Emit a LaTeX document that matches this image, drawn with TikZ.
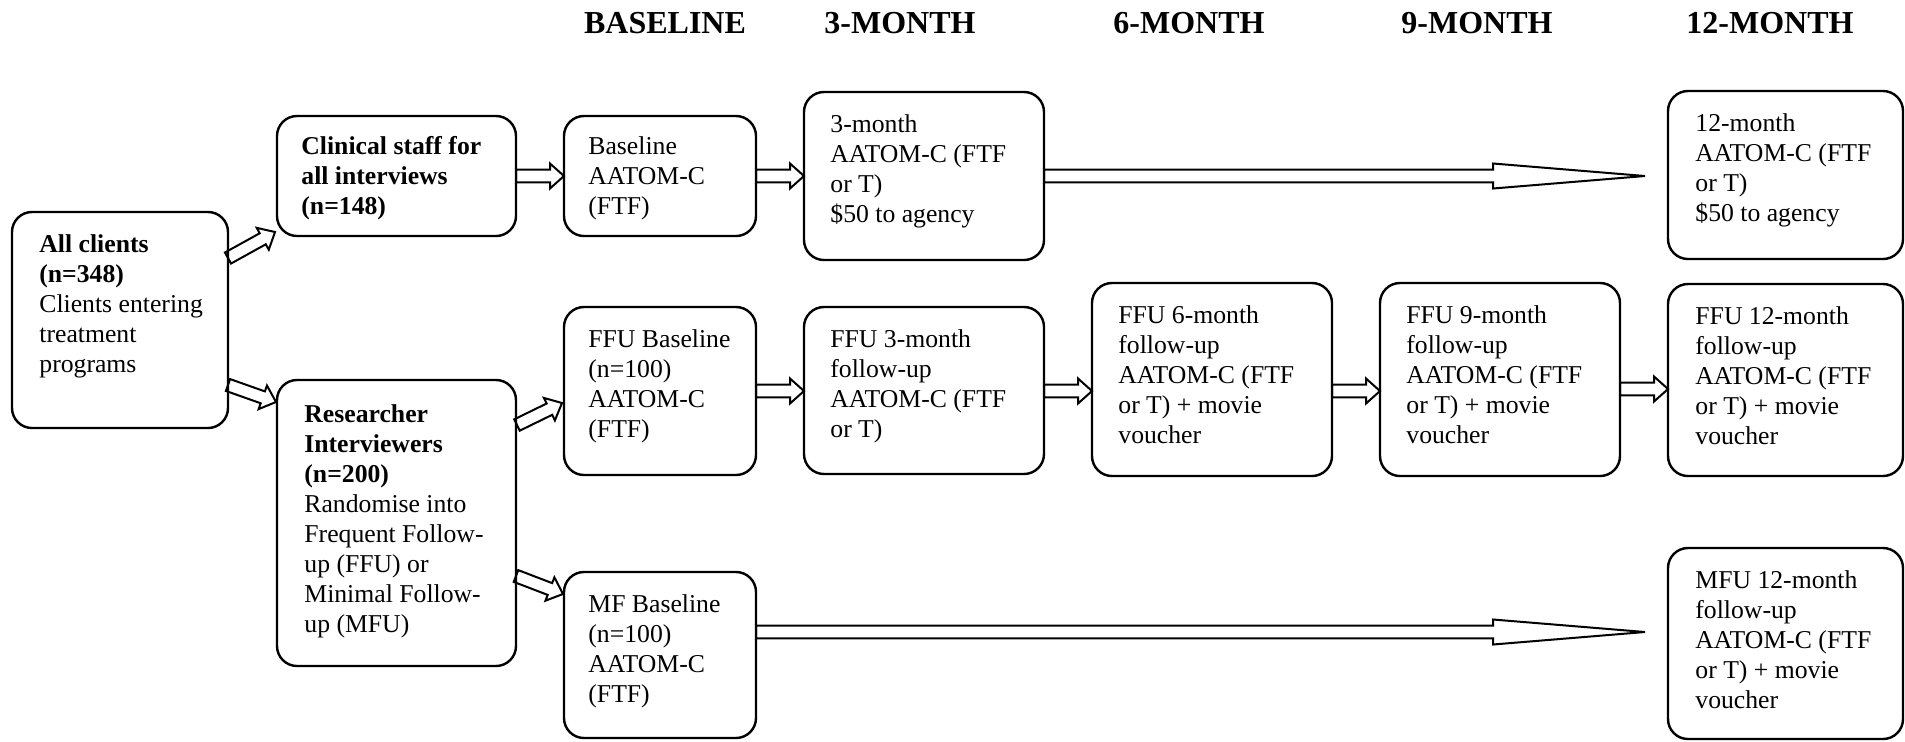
\documentclass[tikz,border=0pt]{standalone}
\usepackage{fontspec}
\setmainfont{Liberation Serif}
\usetikzlibrary{calc,fit}
\tikzset{
  box/.style={draw, line width=1.2pt, rounded corners=10pt, inner sep=0pt, outer sep=0pt},
  txt/.style={inner sep=0pt, anchor=base west, font=\fontsize{12.85}{15}\selectfont},
  hdr/.style={inner sep=0pt, anchor=base, font=\fontsize{16}{18}\selectfont\bfseries},
  arr/.style={draw, line width=1pt, line join=miter},
}
\newcommand{\tb}[1]{\parbox[t]{130pt}{\raggedright #1}}
% block arrow: tail, tip, shaft half width, head half width, head length
\newcommand{\barrow}[5]{%
  \coordinate (bh) at ($(#2)!#5!(#1)$);
  \draw[arr] ($(#1)!#3!90:(#2)$) -- ($(bh)!#3!90:(#2)$) -- ($(bh)!#4!90:(#2)$) -- (#2)
    -- ($(bh)!#4!-90:(#2)$) -- ($(bh)!#3!-90:(#2)$) -- ($(#1)!#3!-90:(#2)$) -- cycle;}
\newcommand{\sarrow}[2]{\barrow{#1}{#2}{3.15pt}{6.25pt}{7pt}}
\newcommand{\larrow}[2]{\barrow{#1}{#2}{3.15pt}{6.25pt}{76pt}}
\begin{document}
\begin{tikzpicture}[x=0.5pt, y=-0.5pt]
\useasboundingbox (0,0) rectangle (1905,741);

% headers
\node[hdr] (hbase) at (665,33) {BASELINE};
\node[hdr] (h3) at (900,33) {3-MONTH};
\node[hdr] (h6) at (1189,33) {6-MONTH};
\node[hdr] (h9) at (1477,33) {9-MONTH};
\node[hdr] (h12) at (1770,33) {12-MONTH};

% boxes
\node[box, fit={(12,212) (228,428)}] (allc) {};
\node[box, fit={(277,116) (516,236)}] (clin) {};
\node[box, fit={(277,380) (516,666)}] (res) {};
\node[box, fit={(564,116) (756,236)}] (base) {};
\node[box, fit={(804,92) (1044,260)}] (m3) {};
\node[box, fit={(1668,91) (1903,259)}] (m12) {};
\node[box, fit={(564,307) (756,475)}] (ffub) {};
\node[box, fit={(804,307) (1044,474)}] (ffu3) {};
\node[box, fit={(1092,283) (1332,476)}] (ffu6) {};
\node[box, fit={(1380,283) (1620,476)}] (ffu9) {};
\node[box, fit={(1668,284) (1903,476)}] (ffu12) {};
\node[box, fit={(564,572) (756,738)}] (mfb) {};
\node[box, fit={(1668,548) (1903,739)}] (mfu12) {};

% texts
\node[txt] (allc-t) at ($(allc.north west)+(27,40)$) {\tb{\textbf{All clients}\\\textbf{(n=348)}\\Clients entering\\treatment\\programs}};
\node[txt] (clin-t) at ($(clin.north west)+(24,38)$) {\tb{\textbf{Clinical staff for}\\\textbf{all interviews}\\\textbf{(n=148)}}};
\node[txt] (res-t) at ($(res.north west)+(27,42)$) {\tb{\textbf{Researcher}\\\textbf{Interviewers}\\\textbf{(n=200)}\\Randomise into\\Frequent Follow-\\up (FFU) or\\Minimal Follow-\\up (MFU)}};
\node[txt] (base-t) at ($(base.north west)+(24,38)$) {\tb{Baseline\\AATOM-C\\(FTF)}};
\node[txt] (m3-t) at ($(m3.north west)+(26,40)$) {\tb{3-month\\AATOM-C (FTF\\or T)\\\$50 to agency}};
\node[txt] (m12-t) at ($(m12.north west)+(27,40)$) {\tb{12-month\\AATOM-C (FTF\\or T)\\\$50 to agency}};
\node[txt] (ffub-t) at ($(ffub.north west)+(24,40)$) {\tb{FFU Baseline\\(n=100)\\AATOM-C\\(FTF)}};
\node[txt] (ffu3-t) at ($(ffu3.north west)+(26,40)$) {\tb{FFU 3-month\\follow-up\\AATOM-C (FTF\\or T)}};
\node[txt] (ffu6-t) at ($(ffu6.north west)+(26,40)$) {\tb{FFU 6-month\\follow-up\\AATOM-C (FTF\\or T) + movie\\voucher}};
\node[txt] (ffu9-t) at ($(ffu9.north west)+(26,40)$) {\tb{FFU 9-month\\follow-up\\AATOM-C (FTF\\or T) + movie\\voucher}};
\node[txt] (ffu12-t) at ($(ffu12.north west)+(27,40)$) {\tb{FFU 12-month\\follow-up\\AATOM-C (FTF\\or T) + movie\\voucher}};
\node[txt] (mfb-t) at ($(mfb.north west)+(24,40)$) {\tb{MF Baseline\\(n=100)\\AATOM-C\\(FTF)}};
\node[txt] (mfu12-t) at ($(mfu12.north west)+(27,40)$) {\tb{MFU 12-month\\follow-up\\AATOM-C (FTF\\or T) + movie\\voucher}};

% connector end points
\coordinate (a1s) at ($(allc.north east)+(0,46)$);
\coordinate (a1e) at ($(clin.south west)+(-2,-4)$);
\coordinate (a2s) at ($(allc.north east)+(0,173)$);
\coordinate (a2e) at ($(res.north west)+(-1,22)$);
\coordinate (a3s) at ($(res.north east)+(1,45)$);
\coordinate (a3e) at ($(ffub.north west)+(-2,96)$);
\coordinate (a4s) at ($(res.north east)+(0,196)$);
\coordinate (a4e) at ($(mfb.north west)+(-1,22)$);
\coordinate (c1s) at ($(clin.north east)+(0,60)$);
\coordinate (c1e) at (c1s -| base.west);
\coordinate (b1e) at (base.east -| m3.west);
\coordinate (m3s) at (base.east -| m3.east);
\coordinate (m12tip) at ($(m3s -| m12.west)+(-23,0)$);
\coordinate (f1s) at ($(ffub.north east)+(0,84)$);
\coordinate (f1e) at (f1s -| ffu3.west);
\coordinate (f2s) at (f1s -| ffu3.east);
\coordinate (f2e) at (f1s -| ffu6.west);
\coordinate (f3s) at (f1s -| ffu6.east);
\coordinate (f3e) at (f1s -| ffu9.west);
\coordinate (f4s) at ($(f1s -| ffu9.east)+(0,-2)$);
\coordinate (f4e) at (f4s -| ffu12.west);
\coordinate (ms) at ($(mfb.north east)+(0,60)$);
\coordinate (mtip) at ($(ms -| mfu12.west)+(-23,0)$);

% connectors
\sarrow{a1s}{a1e}
\sarrow{a2s}{a2e}
\sarrow{a3s}{a3e}
\sarrow{a4s}{a4e}
\sarrow{c1s}{c1e}
\sarrow{base.east}{b1e}
\larrow{m3s}{m12tip}
\sarrow{f1s}{f1e}
\sarrow{f2s}{f2e}
\sarrow{f3s}{f3e}
\sarrow{f4s}{f4e}
\larrow{ms}{mtip}
\end{tikzpicture}
\end{document}
